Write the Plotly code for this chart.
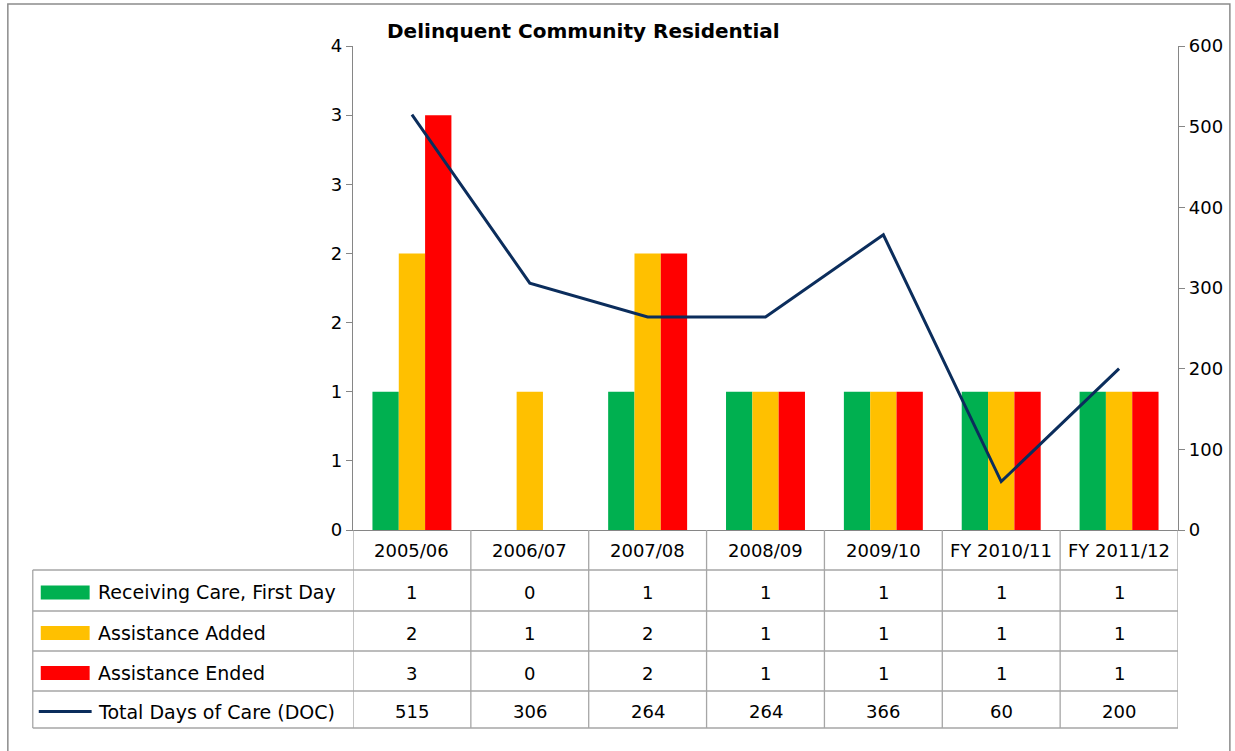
import plotly.graph_objects as go

# ---------------- data ----------------
categories = ["2005/06", "2006/07", "2007/08", "2008/09", "2009/10", "FY 2010/11", "FY 2011/12"]
receiving_care = [1, 0, 1, 1, 1, 1, 1]
assistance_added = [2, 1, 2, 1, 1, 1, 1]
assistance_ended = [3, 0, 2, 1, 1, 1, 1]
total_days = [515, 306, 264, 264, 366, 60, 200]

series_names = ["Receiving Care, First Day", "Assistance Added", "Assistance Ended", "Total Days of Care (DOC)"]
left_tick_vals = [0, 0.5, 1, 1.5, 2, 2.5, 3, 3.5]
left_tick_text = ["0", "1", "1", "2", "2", "3", "3", "4"]
right_tick_vals = [0, 100, 200, 300, 400, 500, 600]
title_text = "Delinquent Community Residential"

# ---------------- style ----------------
W, H = 1235, 751
ML, MR, MT, MB = 353, 55, 46, 221
PW, PH = W - ML - MR, H - MT - MB
FONT = "DejaVu Sans"
FS = 18
GREEN, ORANGE, RED, NAVY = "#00B050", "#FFC000", "#FF0000", "#0B2D5C"
GRID = "#A6A6A6"
AXIS = "#868686"


def px_x(px):
    return (px - ML) / PW


def px_y(py):
    return (H - MB - py) / PH


fig = go.Figure()
for name, vals, col in [(series_names[0], receiving_care, GREEN),
                        (series_names[1], assistance_added, ORANGE),
                        (series_names[2], assistance_ended, RED)]:
    fig.add_trace(go.Bar(x=categories, y=vals, name=name, marker=dict(color=col, line=dict(width=0)),
                         yaxis="y"))
fig.add_trace(go.Scatter(x=categories, y=total_days, name=series_names[3], mode="lines",
                         line=dict(color=NAVY, width=3), yaxis="y2"))

shapes = []
annotations = []

# table geometry (pixels)
row_edges = [530, 570, 611, 651, 691, 728]
table_left = 32
right_px = ML + PW

for py in row_edges[1:]:
    shapes.append(dict(type="line", xref="paper", yref="paper", x0=px_x(table_left), x1=px_x(right_px),
                       y0=px_y(py), y1=px_y(py), line=dict(color=GRID, width=1.3)))
shapes.append(dict(type="line", xref="paper", yref="paper", x0=px_x(table_left), x1=px_x(table_left),
                   y0=px_y(row_edges[1]), y1=px_y(row_edges[-1]), line=dict(color=GRID, width=1.3)))
for i in range(len(categories) + 1):
    shapes.append(dict(type="line", xref="x", yref="paper", x0=i - 0.5, x1=i - 0.5,
                       y0=0, y1=px_y(row_edges[-1]), line=dict(color=GRID, width=1.3)))

for c in categories:
    annotations.append(dict(x=c, xref="x", y=px_y((row_edges[0] + row_edges[1]) / 2), yref="paper",
                            text=c, showarrow=False, font=dict(family=FONT, size=FS, color="#000"),
                            xanchor="center", yanchor="middle"))

table_rows = [receiving_care, assistance_added, assistance_ended, total_days]
swatch_cols = [GREEN, ORANGE, RED, NAVY]
for r, (vals, col, name) in enumerate(zip(table_rows, swatch_cols, series_names)):
    cy = (row_edges[r + 1] + row_edges[r + 2]) / 2 + 2
    for c, v in zip(categories, vals):
        annotations.append(dict(x=c, xref="x", y=px_y(cy), yref="paper", text=str(v), showarrow=False,
                                font=dict(family=FONT, size=FS, color="#000"),
                                xanchor="center", yanchor="middle"))
    if r < 3:
        shapes.append(dict(type="rect", xref="paper", yref="paper", x0=px_x(40), x1=px_x(89),
                           y0=px_y(cy - 7), y1=px_y(cy + 7), fillcolor=col, line=dict(width=0)))
    else:
        shapes.append(dict(type="line", xref="paper", yref="paper", x0=px_x(38), x1=px_x(91),
                           y0=px_y(cy), y1=px_y(cy), line=dict(color=col, width=3)))
    annotations.append(dict(x=px_x(95), xref="paper", y=px_y(cy), yref="paper", text=name,
                            showarrow=False, font=dict(family=FONT, size=FS + 1, color="#000"),
                            xanchor="left", yanchor="middle"))

annotations.append(dict(x=px_x(584), xref="paper", y=px_y(31), yref="paper", text="<b>" + title_text + "</b>",
                        showarrow=False, font=dict(family=FONT, size=20, color="#000"),
                        xanchor="center", yanchor="middle"))

shapes.append(dict(type="rect", xref="paper", yref="paper", x0=px_x(7), x1=px_x(1232),
                   y0=px_y(760), y1=px_y(4), line=dict(color="#8C8C8C", width=1.5), layer="below"))

fig.update_layout(
    width=W, height=H,
    margin=dict(l=ML, r=MR, t=MT, b=MB, pad=0),
    paper_bgcolor="white", plot_bgcolor="white",
    barmode="group", bargap=0.33, bargroupgap=0,
    showlegend=False,
    font=dict(family=FONT, size=FS, color="#000"),
    xaxis=dict(type="category", range=[-0.5, len(categories) - 0.5], showticklabels=False, ticks="",
               showgrid=False, zeroline=False, showline=True, linecolor=AXIS, linewidth=1.3),
    yaxis=dict(range=[0, 3.5], tickvals=left_tick_vals, ticktext=left_tick_text, ticks="outside",
               ticklen=6, tickcolor=AXIS, showline=True, linecolor=AXIS, linewidth=1.3,
               showgrid=False, zeroline=False, tickfont=dict(family=FONT, size=FS, color="#000")),
    yaxis2=dict(range=[0, 600], tickvals=right_tick_vals, overlaying="y", side="right", ticks="outside",
                ticklen=6, tickcolor=AXIS, showline=True, linecolor=AXIS, linewidth=1.3,
                showgrid=False, zeroline=False, tickfont=dict(family=FONT, size=FS, color="#000")),
    shapes=shapes, annotations=annotations,
)

fig.write_html("out.html", config={"displayModeBar": False},
               post_script="document.body.style.margin='0';document.body.style.padding='0';")
